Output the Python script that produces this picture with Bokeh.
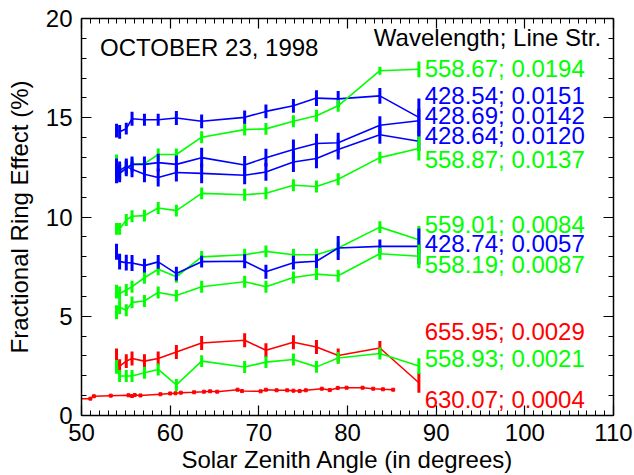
import numpy as np
from bokeh.plotting import figure
from bokeh.models import LinearAxis, SingleIntervalTicker, Range1d, ColumnDataSource, CustomJSTickFormatter
from bokeh.embed import file_html
from bokeh.resources import INLINE
from bokeh.core.properties import value

# ---------------- data ----------------
sza = [53.95, 54.3, 55.05, 55.7, 57.1, 58.65, 60.7, 63.55, 68.4, 70.8, 73.9, 76.5, 78.95, 83.65, 88.05]

names = ["428.54; 0.0151", "558.67; 0.0194", "428.69; 0.0142", "428.64; 0.0120",
         "558.87; 0.0137", "559.01; 0.0084", "428.74; 0.0057", "558.19; 0.0087",
         "655.95; 0.0029", "558.93; 0.0021"]
colors = ["#0000ff", "#00ff00", "#0000ff", "#0000ff",
          "#00ff00", "#00ff00", "#0000ff", "#00ff00",
          "#ff0000", "#00ff00"]

r428_54 = [14.35, 14.29, 14.45, 14.95, 14.9, 14.9, 14.99, 14.82, 15.02, 15.32, 15.6, 15.99, 15.95, 16.1, 15.02]
r558_67 = [12.75, 12.24, 12.49, 12.65, 12.69, 13.15, 13.15, 14.02, 14.4, 14.44, 14.82, 15.1, 15.6, 17.37, 17.44]
r428_69 = [12.5, 12.2, 12.45, 12.65, 12.65, 12.74, 12.65, 12.99, 12.62, 12.99, 13.4, 13.7, 13.74, 14.62, 14.85]
r428_64 = [12.15, 12.35, 12.55, 12.4, 12.15, 11.99, 12.24, 12.2, 12.1, 12.27, 12.77, 12.95, 13.4, 14.14, 13.82]
r558_87 = [9.4, 9.4, 9.85, 10.04, 10.07, 10.45, 10.32, 11.19, 11.12, 11.2, 11.6, 11.54, 11.9, 12.99, 13.45]
r559_01 = [6.24, 6.15, 6.32, 6.49, 6.94, 7.37, 6.99, 7.99, 8.1, 8.27, 8.1, 8.1, 8.44, 9.49, 8.85]
r428_74 = [8.25, 7.75, 7.7, 7.68, 7.55, 7.74, 7.15, 7.75, 7.77, 7.24, 7.7, 7.77, 8.44, 8.52, 8.52]
r558_19 = [5.2, 5.45, 5.3, 5.7, 5.77, 6.2, 6.04, 6.49, 6.74, 6.49, 6.95, 7.12, 7.04, 8.15, 8.02]
r655_95 = [2.82, 2.49, 2.74, 2.87, 2.74, 2.87, 3.2, 3.65, 3.79, 3.29, 3.69, 3.45, 3.02, 3.4, 1.65]
r558_93 = [2.45, 1.99, 1.99, 1.99, 2.15, 2.32, 1.54, 2.74, 2.44, 2.69, 2.82, 2.45, 2.9, 3.12, 2.49]

e428_54 = [0.35, 0.35, 0.3, 0.35, 0.3, 0.3, 0.35, 0.35, 0.35, 0.35, 0.35, 0.4, 0.4, 0.4, 0.95]
e558_67 = [0.4, 0.35, 0.3, 0.3, 0.3, 0.3, 0.3, 0.3, 0.3, 0.3, 0.3, 0.3, 0.3, 0.2, 0.4]
e428_69 = [0.45, 0.45, 0.4, 0.4, 0.4, 0.45, 0.45, 0.5, 0.45, 0.45, 0.5, 0.5, 0.5, 0.45, 0.6]
e428_64 = [0.45, 0.45, 0.4, 0.4, 0.4, 0.45, 0.45, 0.5, 0.45, 0.45, 0.5, 0.5, 0.5, 0.45, 0.5]
e558_87 = [0.3, 0.3, 0.3, 0.3, 0.3, 0.3, 0.3, 0.3, 0.3, 0.3, 0.3, 0.3, 0.3, 0.3, 0.6]
e559_01 = [0.35, 0.35, 0.3, 0.3, 0.3, 0.3, 0.3, 0.3, 0.3, 0.3, 0.3, 0.3, 0.3, 0.3, 0.7]
e428_74 = [0.4, 0.4, 0.4, 0.4, 0.35, 0.35, 0.35, 0.3, 0.35, 0.35, 0.35, 0.35, 0.6, 0.35, 0.9]
e558_19 = [0.35, 0.35, 0.3, 0.3, 0.3, 0.3, 0.3, 0.3, 0.3, 0.3, 0.3, 0.3, 0.3, 0.3, 0.6]
e655_95 = [0.55, 0.35, 0.35, 0.35, 0.35, 0.35, 0.35, 0.35, 0.35, 0.35, 0.35, 0.35, 0.35, 0.35, 0.5]
e558_93 = [0.35, 0.3, 0.3, 0.3, 0.3, 0.3, 0.3, 0.3, 0.3, 0.3, 0.3, 0.3, 0.3, 0.3, 0.4]

values_list = [r428_54, r558_67, r428_69, r428_64, r558_87, r559_01, r428_74, r558_19, r655_95, r558_93]
errors_list = [e428_54, e558_67, e428_69, e428_64, e558_87, e559_01, e428_74, e558_19, e655_95, e558_93]

# 630.07 nm line (dense, small markers)
sza_630 = [47.6, 51.0, 51.4, 53.3, 55.3, 55.7, 56.0, 56.65, 58.9, 60.0, 60.6, 61.2, 62.7, 63.8, 64.5, 65.3,
           67.6, 68.1, 70.2, 70.8, 72.0, 73.2, 73.9, 74.6, 75.3, 77.1, 78.0, 78.9, 79.9, 81.7, 82.9, 84.0, 85.15]
r630_07 = [0.85, 0.85, 0.97, 1.0, 1.02, 0.98, 1.03, 1.01, 1.07, 1.11, 1.12, 1.15, 1.17, 1.2, 1.22, 1.2,
           1.3, 1.23, 1.22, 1.3, 1.27, 1.27, 1.25, 1.23, 1.27, 1.35, 1.28, 1.39, 1.4, 1.4, 1.35, 1.32, 1.3]

# label text (placed at the right side of the curves)
label_texts = ["558.67; 0.0194", "428.54; 0.0151", "428.69; 0.0142", "428.64; 0.0120", "558.87; 0.0137",
               "559.01; 0.0084", "428.74; 0.0057", "558.19; 0.0087", "655.95; 0.0029", "558.93; 0.0021",
               "630.07; 0.0004"]
label_colors = ["#00ff00", "#0000ff", "#0000ff", "#0000ff", "#00ff00",
                "#00ff00", "#0000ff", "#00ff00", "#ff0000", "#00ff00", "#ff0000"]
label_y = [17.5, 16.1, 15.1, 14.1, 12.9, 9.6, 8.65, 7.6, 4.25, 2.85, 0.8]
label_x = 88.7

FONT = "Liberation Sans"
FS = "24px"

p = figure(width=634, height=475, x_range=Range1d(50, 110), y_range=Range1d(0, 20),
           output_backend="svg", toolbar_location=None,
           min_border_left=81, min_border_right=21, min_border_top=18, min_border_bottom=57)
p.grid.visible = False
p.outline_line_color = None
p.background_fill_color = "white"
p.border_fill_color = "white"

def style_axis(ax, labels=True):
    ax.axis_line_color = "black"
    ax.axis_line_width = 1.5
    ax.major_tick_line_color = "black"
    ax.major_tick_line_width = 1.2
    ax.minor_tick_line_color = "black"
    ax.minor_tick_line_width = 1.0
    ax.major_tick_in = 10
    ax.major_tick_out = 0
    ax.minor_tick_in = 5
    ax.minor_tick_out = 0
    if labels:
        ax.major_label_text_font = FONT
        ax.major_label_text_font_size = FS
        ax.major_label_text_color = "black"
        ax.axis_label_text_font = FONT
        ax.axis_label_text_font_size = FS
        ax.axis_label_text_font_style = "normal"
        ax.axis_label_text_color = "black"
    else:
        ax.formatter = CustomJSTickFormatter(code="return '';")
        ax.major_label_text_font_size = "1px"
        ax.major_label_standoff = 0

p.xaxis.ticker = SingleIntervalTicker(interval=10, num_minor_ticks=10)
p.yaxis.ticker = SingleIntervalTicker(interval=5, num_minor_ticks=5)
p.xaxis.axis_label = "Solar Zenith Angle (in degrees)"
p.yaxis.axis_label = "Fractional Ring Effect (%)"
style_axis(p.xaxis[0])
style_axis(p.yaxis[0])
p.xaxis.major_label_standoff = 8
p.xaxis.axis_label_standoff = 2
p.yaxis.major_label_standoff = 9
p.yaxis.axis_label_standoff = 10

top = LinearAxis(ticker=SingleIntervalTicker(interval=10, num_minor_ticks=10))
right = LinearAxis(ticker=SingleIntervalTicker(interval=5, num_minor_ticks=5))
style_axis(top, labels=False)
style_axis(right, labels=False)
p.add_layout(top, "above")
p.add_layout(right, "right")

x_arr = np.array(sza)
for vals, errs, col in zip(values_list, errors_list, colors):
    v = np.array(vals)
    e = np.array(errs)
    src = ColumnDataSource(dict(x=x_arr, y=v, y0=v - e, y1=v + e))
    p.line("x", "y", source=src, line_color=col, line_width=1.6)
    p.segment(x0="x", y0="y0", x1="x", y1="y1", source=src, line_color=col, line_width=3)

src630 = ColumnDataSource(dict(x=sza_630, y=r630_07))
p.line("x", "y", source=src630, line_color="#ff0000", line_width=1.5)
p.scatter("x", "y", source=src630, marker="square", size=3, color="#ff0000")

p.text(x=[label_x] * len(label_texts), y=label_y, text=label_texts, text_color=label_colors,
       text_font=value(FONT), text_font_size=FS, text_align="left", text_baseline="middle")

p.text(x=[52.1], y=[18.55], text=["OCTOBER 23, 1998"], text_color="black",
       text_font=value(FONT), text_font_size=FS, text_align="left", text_baseline="middle")
p.text(x=[108.6], y=[19.05], text=["Wavelength; Line Str."], text_color="black",
       text_font=value(FONT), text_font_size=FS, text_align="right", text_baseline="middle")

open("out.html", "w").write(file_html(p, INLINE))
